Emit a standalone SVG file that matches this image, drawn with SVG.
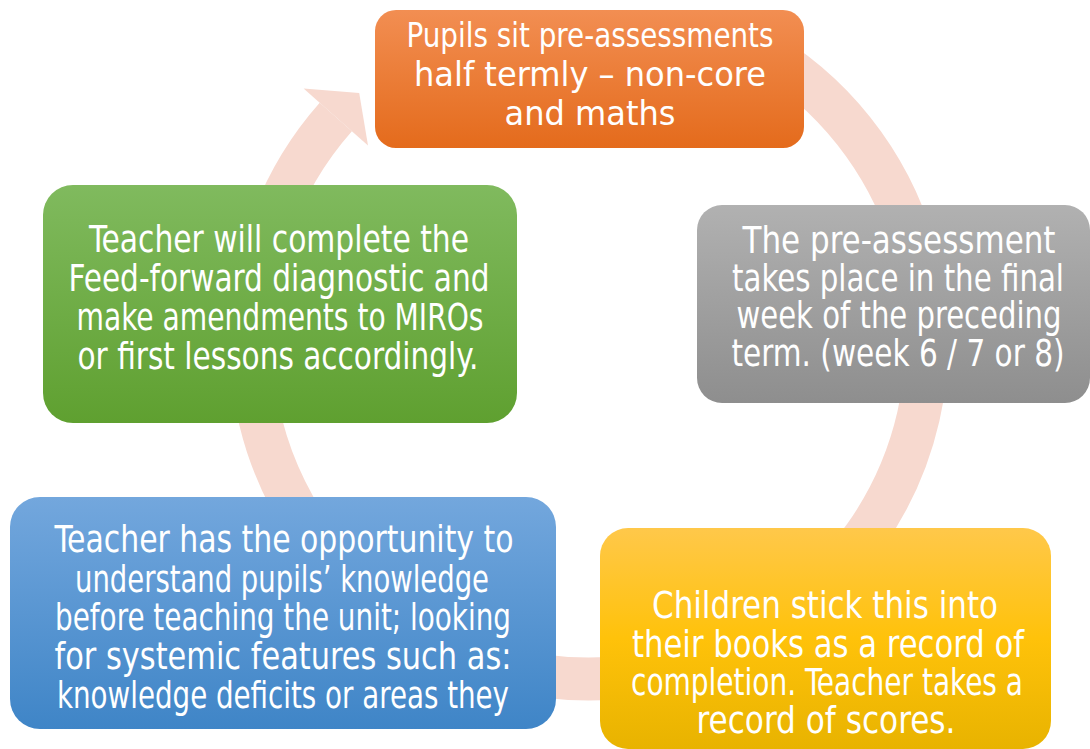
<svg xmlns="http://www.w3.org/2000/svg" width="1090" height="749" viewBox="0 0 1090 749">
<defs>
<linearGradient id="gOrange" x1="0" y1="0" x2="0" y2="1"><stop offset="0" stop-color="#F28E52"/><stop offset="1" stop-color="#E46B1C"/></linearGradient>
<linearGradient id="gGrey" x1="0" y1="0" x2="0" y2="1"><stop offset="0" stop-color="#B1B1B1"/><stop offset="1" stop-color="#8E8E8E"/></linearGradient>
<linearGradient id="gGold" x1="0" y1="0" x2="0" y2="1"><stop offset="0" stop-color="#FFC84A"/><stop offset="0.5" stop-color="#FFC20A"/><stop offset="1" stop-color="#E8B300"/></linearGradient>
<linearGradient id="gBlue" x1="0" y1="0" x2="0" y2="1"><stop offset="0" stop-color="#73A7DD"/><stop offset="1" stop-color="#3F85C7"/></linearGradient>
<linearGradient id="gGreen" x1="0" y1="0" x2="0" y2="1"><stop offset="0" stop-color="#80BA5E"/><stop offset="1" stop-color="#5FA030"/></linearGradient>
<clipPath id="clipBlue"><rect x="10" y="497" width="546" height="232" rx="30"/></clipPath>
</defs>
<style>
.t{font-family:"DejaVu Sans Condensed","DejaVu Sans","Liberation Sans",sans-serif;font-stretch:condensed;fill:#FFFFFF;text-anchor:middle;}
.s34{font-size:34px;}
.s36{font-size:37.5px;}
.ring{fill:none;stroke:#F7D9CF;stroke-width:43;}
.head{fill:#F7D9CF;}
</style>
<rect width="1090" height="749" fill="#FFFFFF"/>
<g id="connectors">
<path class="ring" d="M768.1,54.4 A338,338 0 1 1 335.8,117.0"/>
<polygon class="head" points="303.6,88.6 359.2,93.1 368.0,145.5"/>
</g>
<g id="node-orange">
<rect x="375" y="10" width="429" height="138" rx="21" fill="url(#gOrange)"/>
<text class="t s34" x="590" y="47" textLength="367" lengthAdjust="spacingAndGlyphs">Pupils sit pre-assessments</text>
<text class="t s34" x="590" y="86" textLength="352" lengthAdjust="spacingAndGlyphs">half termly – non-core</text>
<text class="t s34" x="590" y="125" textLength="171" lengthAdjust="spacingAndGlyphs">and maths</text>
</g>
<g id="node-grey">
<rect x="697" y="205" width="393" height="198" rx="25" fill="url(#gGrey)"/>
<text class="t s36" x="899" y="253" textLength="313" lengthAdjust="spacingAndGlyphs">The pre-assessment</text>
<text class="t s36" x="898" y="291" textLength="332" lengthAdjust="spacingAndGlyphs">takes place in the final</text>
<text class="t s36" x="899" y="328" textLength="325" lengthAdjust="spacingAndGlyphs">week of the preceding</text>
<text class="t s36" x="898" y="366" textLength="333" lengthAdjust="spacingAndGlyphs">term. (week 6 / 7 or 8)</text>
</g>
<g id="node-gold">
<rect x="600" y="528" width="451" height="221" rx="28" fill="url(#gGold)"/>
<text class="t s36" x="825" y="618" textLength="346" lengthAdjust="spacingAndGlyphs">Children stick this into</text>
<text class="t s36" x="828" y="657" textLength="392" lengthAdjust="spacingAndGlyphs">their books as a record of</text>
<text class="t s36" x="827" y="695" textLength="392" lengthAdjust="spacingAndGlyphs">completion. Teacher takes a</text>
<text class="t s36" x="826" y="733" textLength="259" lengthAdjust="spacingAndGlyphs">record of scores.</text>
</g>
<g id="node-blue">
<rect x="10" y="497" width="546" height="232" rx="30" fill="url(#gBlue)"/>
<g clip-path="url(#clipBlue)">
<text class="t s36" x="284" y="552" textLength="459" lengthAdjust="spacingAndGlyphs">Teacher has the opportunity to</text>
<text class="t s36" x="282" y="592" textLength="414" lengthAdjust="spacingAndGlyphs">understand pupils’ knowledge</text>
<text class="t s36" x="283" y="630" textLength="456" lengthAdjust="spacingAndGlyphs">before teaching the unit; looking</text>
<text class="t s36" x="283" y="669" textLength="457" lengthAdjust="spacingAndGlyphs">for systemic features such as:</text>
<text class="t s36" x="283" y="708" textLength="452" lengthAdjust="spacingAndGlyphs">knowledge deficits or areas they</text>
</g>
</g>
<g id="node-green">
<rect x="43" y="185" width="474" height="238" rx="30" fill="url(#gGreen)"/>
<text class="t s36" x="279" y="252" textLength="380" lengthAdjust="spacingAndGlyphs">Teacher will complete the</text>
<text class="t s36" x="279" y="291" textLength="421" lengthAdjust="spacingAndGlyphs">Feed-forward diagnostic and</text>
<text class="t s36" x="280" y="330" textLength="407" lengthAdjust="spacingAndGlyphs">make amendments to MIROs</text>
<text class="t s36" x="278" y="369" textLength="401" lengthAdjust="spacingAndGlyphs">or first lessons accordingly.</text>
</g>
</svg>
